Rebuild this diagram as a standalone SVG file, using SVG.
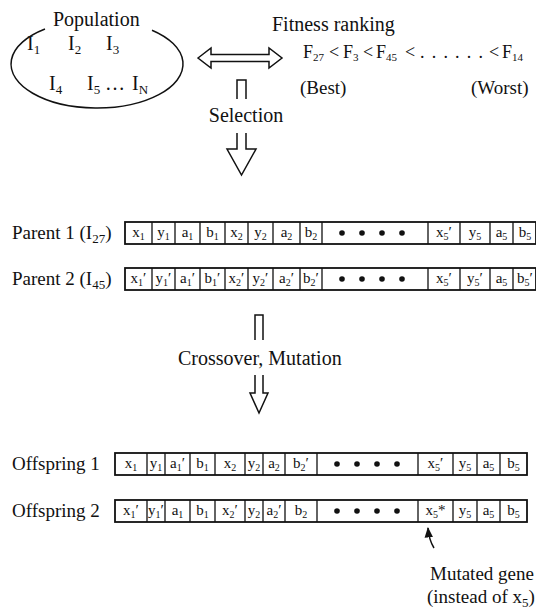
<svg xmlns="http://www.w3.org/2000/svg" width="536" height="610" viewBox="0 0 536 610">
<style>
  text { font-family: "Liberation Serif", "Times New Roman", serif; fill: #111; }
  .lab { font-size: 20px; }
  .fr { font-size: 18px; }
  .rl { font-size: 19px; }
  .s { font-size: 13px; }
  .fs { font-size: 11px; }
  .cell { font-size: 15px; text-anchor: middle; }
  .cs { font-size: 10px; }
  .bar { fill: #fff; stroke: #111; stroke-width: 1.8; }
  .div { stroke: #111; stroke-width: 1.3; }
  .dot { fill: #111; }
  .arr { fill: #fff; stroke: #111; stroke-width: 1.5; stroke-linejoin: miter; }
  .ln { fill: none; stroke: #111; stroke-width: 1.5; }
</style>
<defs>
  <marker id="ah" viewBox="0 0 10 10" refX="9" refY="5" markerWidth="7" markerHeight="7" orient="auto-start-reverse">
    <path d="M0,1 L10,5 L0,9 z" fill="#111"/>
  </marker>
</defs>

<g id="population">
  <path class="ln" d="M45,29 A86,44 0 1 0 152,30.2"/>
  <text class="lab" x="53" y="26">Population</text>
  <text class="lab" x="27" y="50">I<tspan class="s" dy="4">1</tspan></text>
  <text class="lab" x="68" y="50">I<tspan class="s" dy="4">2</tspan></text>
  <text class="lab" x="106" y="50">I<tspan class="s" dy="4">3</tspan></text>
  <text class="lab" x="49" y="90">I<tspan class="s" dy="4">4</tspan></text>
  <text class="lab" x="87" y="90">I<tspan class="s" dy="4">5</tspan></text>
  <text class="lab" x="105" y="90">…</text>
  <text class="lab" x="132" y="90">I<tspan class="s" dy="4">N</tspan></text>
</g>

<g id="fitness">
  <text class="lab" x="272" y="31">Fitness ranking</text>
  <text class="fr" x="303" y="58">F<tspan class="fs" dy="3">27</tspan></text>
  <text class="fr" x="329" y="58">&lt;</text>
  <text class="fr" x="343" y="58">F<tspan class="fs" dy="3">3</tspan></text>
  <text class="fr" x="363" y="58">&lt;</text>
  <text class="fr" x="376" y="58">F<tspan class="fs" dy="3">45</tspan></text>
  <text class="fr" x="405" y="58">&lt;</text>
  <text class="fr" x="420" y="58" letter-spacing="7.2">......</text>
  <text class="fr" x="489" y="58">&lt;</text>
  <text class="fr" x="502" y="58">F<tspan class="fs" dy="3">14</tspan></text>
  <text class="rl" x="300" y="94">(Best)</text>
  <text class="rl" x="471" y="94">(Worst)</text>
</g>

<g id="selection-label">
  <text class="lab" x="246" y="122" text-anchor="middle">Selection</text>
</g>

<g id="parent1">
  <text class="rl" x="12" y="239">Parent 1 (I<tspan class="s" dy="4">27</tspan><tspan dy="-4">)</tspan></text>
  <rect class="bar" x="125" y="222" width="411" height="22"/>
  <path class="div" d="M152,222V244M175,222V244M200,222V244M225,222V244M248,222V244M273,222V244M300,222V244M322,222V244M428,222V244M460,222V244M490,222V244M513,222V244"/>
  <g class="dot"><circle cx="342" cy="233" r="2.8"/><circle cx="362" cy="233" r="2.8"/><circle cx="382" cy="233" r="2.8"/><circle cx="402" cy="233" r="2.8"/></g>
  <text class="cell" x="138.5" y="237">x<tspan class="cs" dy="3">1</tspan></text>
  <text class="cell" x="163.5" y="237">y<tspan class="cs" dy="3">1</tspan></text>
  <text class="cell" x="187.5" y="237">a<tspan class="cs" dy="3">1</tspan></text>
  <text class="cell" x="212.5" y="237">b<tspan class="cs" dy="3">1</tspan></text>
  <text class="cell" x="236.5" y="237">x<tspan class="cs" dy="3">2</tspan></text>
  <text class="cell" x="260.5" y="237">y<tspan class="cs" dy="3">2</tspan></text>
  <text class="cell" x="286.5" y="237">a<tspan class="cs" dy="3">2</tspan></text>
  <text class="cell" x="311" y="237">b<tspan class="cs" dy="3">2</tspan></text>
  <text class="cell" x="444" y="237">x<tspan class="cs" dy="3">5</tspan><tspan dy="-3">′</tspan></text>
  <text class="cell" x="475" y="237">y<tspan class="cs" dy="3">5</tspan></text>
  <text class="cell" x="501.5" y="237">a<tspan class="cs" dy="3">5</tspan></text>
  <text class="cell" x="525" y="237">b<tspan class="cs" dy="3">5</tspan></text>
</g>

<g id="parent2">
  <text class="rl" x="12" y="285">Parent 2 (I<tspan class="s" dy="4">45</tspan><tspan dy="-4">)</tspan></text>
  <rect class="bar" x="125" y="268" width="411" height="22"/>
  <path class="div" d="M152,268V290M175,268V290M200,268V290M225,268V290M248,268V290M273,268V290M300,268V290M322,268V290M428,268V290M460,268V290M490,268V290M513,268V290"/>
  <g class="dot"><circle cx="342" cy="279" r="2.8"/><circle cx="362" cy="279" r="2.8"/><circle cx="382" cy="279" r="2.8"/><circle cx="402" cy="279" r="2.8"/></g>
  <text class="cell" x="138.5" y="283">x<tspan class="cs" dy="3">1</tspan><tspan dy="-3">′</tspan></text>
  <text class="cell" x="163.5" y="283">y<tspan class="cs" dy="3">1</tspan><tspan dy="-3">′</tspan></text>
  <text class="cell" x="187.5" y="283">a<tspan class="cs" dy="3">1</tspan><tspan dy="-3">′</tspan></text>
  <text class="cell" x="212.5" y="283">b<tspan class="cs" dy="3">1</tspan><tspan dy="-3">′</tspan></text>
  <text class="cell" x="236.5" y="283">x<tspan class="cs" dy="3">2</tspan><tspan dy="-3">′</tspan></text>
  <text class="cell" x="260.5" y="283">y<tspan class="cs" dy="3">2</tspan><tspan dy="-3">′</tspan></text>
  <text class="cell" x="286.5" y="283">a<tspan class="cs" dy="3">2</tspan><tspan dy="-3">′</tspan></text>
  <text class="cell" x="311" y="283">b<tspan class="cs" dy="3">2</tspan><tspan dy="-3">′</tspan></text>
  <text class="cell" x="444" y="283">x<tspan class="cs" dy="3">5</tspan><tspan dy="-3">′</tspan></text>
  <text class="cell" x="475" y="283">y<tspan class="cs" dy="3">5</tspan><tspan dy="-3">′</tspan></text>
  <text class="cell" x="501.5" y="283">a<tspan class="cs" dy="3">5</tspan></text>
  <text class="cell" x="525" y="283">b<tspan class="cs" dy="3">5</tspan><tspan dy="-3">′</tspan></text>
</g>

<g id="crossover-label">
  <text class="lab" x="178" y="365">Crossover, Mutation</text>
</g>

<g id="offspring1">
  <text class="rl" x="12" y="470">Offspring 1</text>
  <rect class="bar" x="115" y="453" width="412" height="22"/>
  <path class="div" d="M147,453V475M165,453V475M190,453V475M215,453V475M245,453V475M263,453V475M285,453V475M317,453V475M418,453V475M453,453V475M477,453V475M500,453V475"/>
  <g class="dot"><circle cx="337" cy="464" r="2.8"/><circle cx="357" cy="464" r="2.8"/><circle cx="377" cy="464" r="2.8"/><circle cx="397" cy="464" r="2.8"/></g>
  <text class="cell" x="131" y="468">x<tspan class="cs" dy="3">1</tspan></text>
  <text class="cell" x="156" y="468">y<tspan class="cs" dy="3">1</tspan></text>
  <text class="cell" x="177.5" y="468">a<tspan class="cs" dy="3">1</tspan><tspan dy="-3">′</tspan></text>
  <text class="cell" x="202.5" y="468">b<tspan class="cs" dy="3">1</tspan></text>
  <text class="cell" x="230" y="468">x<tspan class="cs" dy="3">2</tspan></text>
  <text class="cell" x="254" y="468">y<tspan class="cs" dy="3">2</tspan></text>
  <text class="cell" x="274" y="468">a<tspan class="cs" dy="3">2</tspan></text>
  <text class="cell" x="301" y="468">b<tspan class="cs" dy="3">2</tspan><tspan dy="-3">′</tspan></text>
  <text class="cell" x="435.5" y="468">x<tspan class="cs" dy="3">5</tspan><tspan dy="-3">′</tspan></text>
  <text class="cell" x="465" y="468">y<tspan class="cs" dy="3">5</tspan></text>
  <text class="cell" x="488.5" y="468">a<tspan class="cs" dy="3">5</tspan></text>
  <text class="cell" x="513.5" y="468">b<tspan class="cs" dy="3">5</tspan></text>
</g>

<g id="offspring2">
  <text class="rl" x="12" y="517">Offspring 2</text>
  <rect class="bar" x="115" y="500" width="412" height="22"/>
  <path class="div" d="M147,500V522M165,500V522M190,500V522M215,500V522M245,500V522M263,500V522M285,500V522M317,500V522M418,500V522M453,500V522M477,500V522M500,500V522"/>
  <g class="dot"><circle cx="337" cy="511" r="2.8"/><circle cx="357" cy="511" r="2.8"/><circle cx="377" cy="511" r="2.8"/><circle cx="397" cy="511" r="2.8"/></g>
  <text class="cell" x="131" y="515">x<tspan class="cs" dy="3">1</tspan><tspan dy="-3">′</tspan></text>
  <text class="cell" x="156" y="515">y<tspan class="cs" dy="3">1</tspan><tspan dy="-3">′</tspan></text>
  <text class="cell" x="177.5" y="515">a<tspan class="cs" dy="3">1</tspan></text>
  <text class="cell" x="202.5" y="515">b<tspan class="cs" dy="3">1</tspan></text>
  <text class="cell" x="230" y="515">x<tspan class="cs" dy="3">2</tspan><tspan dy="-3">′</tspan></text>
  <text class="cell" x="254" y="515">y<tspan class="cs" dy="3">2</tspan></text>
  <text class="cell" x="274" y="515">a<tspan class="cs" dy="3">2</tspan><tspan dy="-3">′</tspan></text>
  <text class="cell" x="301" y="515">b<tspan class="cs" dy="3">2</tspan></text>
  <text class="cell" x="435.5" y="515">x<tspan class="cs" dy="3">5</tspan><tspan dy="-3">*</tspan></text>
  <text class="cell" x="465" y="515">y<tspan class="cs" dy="3">5</tspan></text>
  <text class="cell" x="488.5" y="515">a<tspan class="cs" dy="3">5</tspan></text>
  <text class="cell" x="513.5" y="515">b<tspan class="cs" dy="3">5</tspan></text>
</g>

<g id="mutation-note">
  <text class="rl" x="430" y="580">Mutated gene</text>
  <text class="rl" x="427" y="603">(instead of x<tspan class="s" dy="4">5</tspan><tspan dy="-4">)</tspan></text>
</g>

<g id="connectors">
  <polygon class="arr" points="198,58 211,48 211,54.5 269,54.5 269,48 282,58 269,68 269,61.5 211,61.5 211,68"/>
  <path class="ln" d="M237,99V80H246V99"/>
  <path class="arr" d="M237,133V149H227L241.5,175L256,149H246V133"/>
  <path class="ln" d="M255,340V315H263V340"/>
  <path class="arr" d="M255,375V393H250L259,413L268,393H263V375"/>
  <path class="ln" d="M434,548Q429,540 428,528" marker-end="url(#ah)"/>
</g>
</svg>
